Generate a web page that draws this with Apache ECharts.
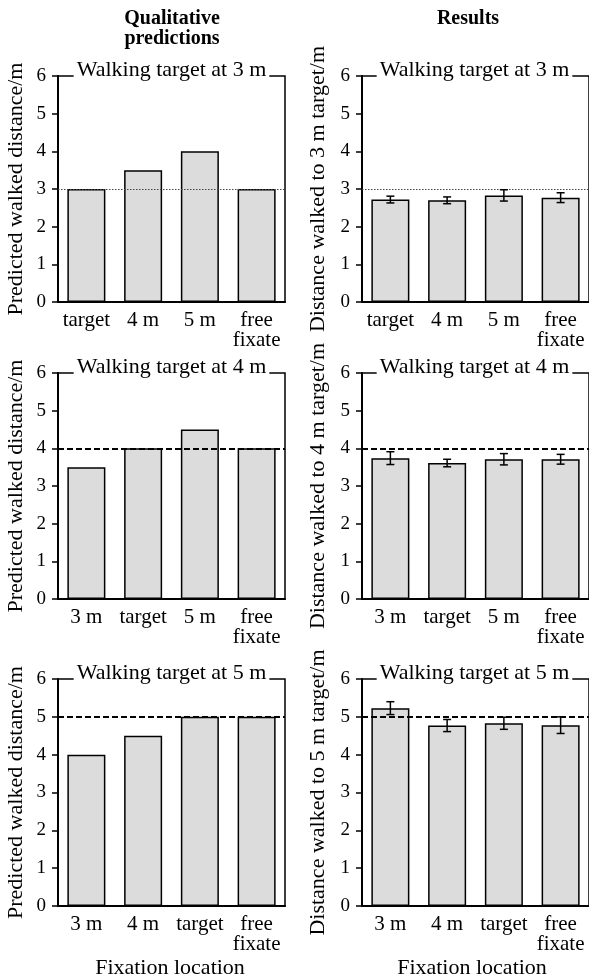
<!DOCTYPE html>
<html>
<head>
<meta charset="utf-8">
<script src="https://cdn.jsdelivr.net/npm/echarts@6/dist/echarts.min.js"></script>
<style>
  html, body { margin: 0; padding: 0; background: #fff; }
  #chart { width: 589px; height: 979px; }
</style>
</head>
<body>
<div id="chart"></div>
<script>
// categories per walking target
const cats3 = ['target', '4 m', '5 m', 'free\nfixate'];
const cats4 = ['3 m', 'target', '5 m', 'free\nfixate'];
const cats5 = ['3 m', '4 m', 'target', 'free\nfixate'];
const targets = [3, 4, 5];

// qualitative predictions
const pred3 = [3, 3.5, 4, 3];
const pred4 = [3.5, 4, 4.5, 4];
const pred5 = [4, 4.5, 5, 5];

// results: means and error half-widths
const res3 = [2.72, 2.70, 2.83, 2.77];
const err3 = [0.09, 0.09, 0.15, 0.13];
const res4 = [3.74, 3.61, 3.71, 3.71];
const err4 = [0.17, 0.10, 0.15, 0.13];
const res5 = [5.23, 4.77, 4.83, 4.78];
const err5 = [0.17, 0.16, 0.16, 0.22];

const yTicks = [0, 1, 2, 3, 4, 5, 6];

const FONT = '"Liberation Serif", "DejaVu Serif", serif';
const rowTops = [76, 373, 679];
const rowHeights = [226, 226, 227];
const colLefts = [58, 362];
const plotW = 227;

const rows = [
  { cats: cats3, pred: pred3, res: res3, err: err3 },
  { cats: cats4, pred: pred4, res: res4, err: err4 },
  { cats: cats5, pred: pred5, res: res5, err: err5 }
];

const grids = [], xAxes = [], yAxes = [], series = [], graphics = [];

rows.forEach((row, r) => {
  const t = targets[r];
  const refLine = r === 0
    ? { color: '#444', width: 1, type: [1.5, 1.5] }
    : { color: '#000', width: 2, type: [6, 3] };
  for (let c = 0; c < 2; c++) {
    const idx = grids.length;
    grids.push({
      left: colLefts[c], top: rowTops[r], width: plotW, height: rowHeights[r],
      outerBoundsMode: 'none', containLabel: false,
      show: true, borderColor: '#000', borderWidth: 1.5, backgroundColor: 'transparent'
    });
    xAxes.push({
      type: 'category', gridIndex: idx, data: row.cats,
      axisLine: { lineStyle: { color: '#000', width: 2 } },
      axisTick: { alignWithLabel: true, length: 5, lineStyle: { color: '#000', width: 1.5 } },
      axisLabel: { color: '#000', fontFamily: FONT, fontSize: 21, lineHeight: 20, margin: 8, interval: 0 }
    });
    yAxes.push({
      type: 'value', gridIndex: idx, min: 0, max: 6, interval: 1,
      name: c === 0 ? 'Predicted walked distance/m' : 'Distance walked to ' + t + ' m target/m',
      nameLocation: 'middle', nameRotate: 90, nameGap: c === 0 ? 31 : 33,
      nameTextStyle: { color: '#000', fontFamily: FONT, fontSize: 22 },
      splitLine: { show: false },
      axisLine: { show: true, lineStyle: { color: '#000', width: 2 } },
      axisTick: { show: true, length: 6, lineStyle: { color: '#000', width: 1.5 } },
      axisLabel: { color: '#000', fontFamily: FONT, fontSize: 19, margin: 12,
        formatter: v => yTicks.includes(v) ? String(v) : '' }
    });
    const vals = c === 0 ? row.pred : row.res;
    series.push({
      type: 'bar', xAxisIndex: idx, yAxisIndex: idx, data: vals, barWidth: '67%',
      itemStyle: { color: '#dcdcdc', borderColor: '#000', borderWidth: 1.5 },
      silent: true,
      markLine: {
        silent: true, symbol: 'none', label: { show: false },
        lineStyle: refLine, data: [{ yAxis: t }]
      }
    });
    if (c === 1) {
      const ebData = row.res.map((m, i) => [i, m - row.err[i], m + row.err[i]]);
      series.push({
        type: 'custom', xAxisIndex: idx, yAxisIndex: idx, data: ebData, z: 5, silent: true,
        renderItem: (params, api) => {
          const lo = api.coord([api.value(0), api.value(1)]);
          const hi = api.coord([api.value(0), api.value(2)]);
          const w = 4;
          const st = { stroke: '#000', lineWidth: 1.5 };
          return {
            type: 'group', children: [
              { type: 'line', shape: { x1: hi[0], y1: hi[1], x2: lo[0], y2: lo[1] }, style: st },
              { type: 'line', shape: { x1: hi[0] - w, y1: hi[1], x2: hi[0] + w, y2: hi[1] }, style: st },
              { type: 'line', shape: { x1: lo[0] - w, y1: lo[1], x2: lo[0] + w, y2: lo[1] }, style: st }
            ]
          };
        }
      });
    }
    // panel heading sitting on top border
    graphics.push({
      type: 'text', z: 100,
      x: colLefts[c] + plotW / 2 + (c === 1 ? -1 : 0), y: rowTops[r] - 6,
      style: {
        text: 'Walking target at ' + t + ' m', fill: '#000', font: '22px ' + FONT,
        align: 'center', verticalAlign: 'middle',
        backgroundColor: '#fff', padding: [3, 3, 3, 3]
      }
    });
  }
});

// column headings and bottom labels
graphics.push(
  { type: 'text', z: 100, x: 172, y: 19, style: { text: 'Qualitative', fill: '#000', font: 'bold 20px ' + FONT, align: 'center', verticalAlign: 'middle' } },
  { type: 'text', z: 100, x: 172, y: 39, style: { text: 'predictions', fill: '#000', font: 'bold 20px ' + FONT, align: 'center', verticalAlign: 'middle' } },
  { type: 'text', z: 100, x: 468, y: 19, style: { text: 'Results', fill: '#000', font: 'bold 20px ' + FONT, align: 'center', verticalAlign: 'middle' } },
  { type: 'text', z: 100, x: 170, y: 968, style: { text: 'Fixation location', fill: '#000', font: '22px ' + FONT, align: 'center', verticalAlign: 'middle' } },
  { type: 'text', z: 100, x: 472, y: 968, style: { text: 'Fixation location', fill: '#000', font: '22px ' + FONT, align: 'center', verticalAlign: 'middle' } }
);

const chart = echarts.init(document.getElementById('chart'), null, { renderer: 'canvas' });
chart.setOption({
  animation: false,
  backgroundColor: '#fff',
  grid: grids,
  xAxis: xAxes,
  yAxis: yAxes,
  series: series,
  graphic: graphics
});
</script>
</body>
</html>
